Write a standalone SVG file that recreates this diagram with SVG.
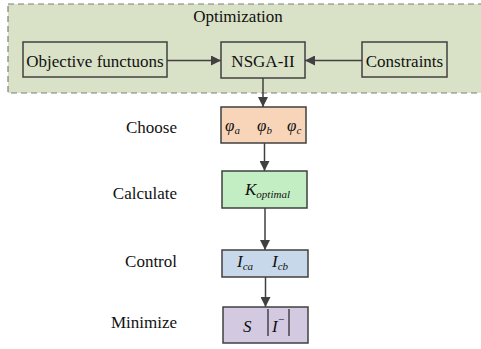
<svg xmlns="http://www.w3.org/2000/svg" width="481" height="349" viewBox="0 0 481 349">
  <defs>
    <marker id="arrow" viewBox="0 0 10 10" refX="10" refY="5" markerWidth="10" markerHeight="10" markerUnits="userSpaceOnUse" orient="auto">
      <path d="M0,0 L10,5 L0,10 z" fill="#404040"/>
    </marker>
  </defs>
  <style>
    text { font-family: "Liberation Serif", "Times New Roman", serif; fill: #111; }
    .lbl { font-size: 17px; }
    .m { font-style: italic; font-size: 17px; }
    .sub { font-style: italic; font-size: 11px; }
    .box { stroke: #404040; stroke-width: 1.5; }
    .conn { stroke: #404040; stroke-width: 1.5; fill: none; marker-end: url(#arrow); }
  </style>
  <rect width="481" height="349" fill="#ffffff"/>

  <!-- optimisation stage -->
  <g id="optimization">
    <rect x="8" y="4" width="480" height="89" fill="#d9e1c6" stroke="#7f7f7f" stroke-width="1.2" stroke-dasharray="6,4"/>
    <text class="lbl" x="238" y="22" text-anchor="middle">Optimization</text>
  </g>
  <g id="objective">
    <rect class="box" x="23" y="42" width="144" height="35" fill="none"/>
    <text class="lbl" x="95" y="67" text-anchor="middle">Objective functuons</text>
  </g>
  <g id="nsga">
    <rect class="box" x="221" y="42" width="84" height="36" fill="none"/>
    <text class="lbl" x="263" y="67" text-anchor="middle">NSGA-II</text>
  </g>
  <g id="constraints">
    <rect class="box" x="362" y="42" width="85" height="35" fill="none"/>
    <text class="lbl" x="404.5" y="67" text-anchor="middle">Constraints</text>
  </g>

  <!-- chain of steps -->
  <g id="choose">
    <rect class="box" x="221" y="107" width="85" height="36" fill="#f8d5b9"/>
    <text x="225" y="131"><tspan class="m">φ</tspan><tspan class="sub" dy="3">a</tspan></text>
    <text x="257" y="131"><tspan class="m">φ</tspan><tspan class="sub" dy="3">b</tspan></text>
    <text x="287" y="131"><tspan class="m">φ</tspan><tspan class="sub" dy="3">c</tspan></text>
  </g>
  <g id="calculate">
    <rect class="box" x="222" y="171" width="85" height="37" fill="#c3eec3"/>
    <text x="245" y="195"><tspan class="m">K</tspan><tspan class="sub" dy="3">optimal</tspan></text>
  </g>
  <g id="control">
    <rect class="box" x="222" y="250" width="86" height="27" fill="#c6d8e9"/>
    <text x="237" y="267"><tspan class="m">I</tspan><tspan class="sub" dy="3">ca</tspan></text>
    <text x="272" y="267"><tspan class="m">I</tspan><tspan class="sub" dy="3">cb</tspan></text>
  </g>
  <g id="minimize">
    <rect class="box" x="223" y="307" width="85" height="36" fill="#d3c9e0"/>
    <text class="m" x="243" y="332">S</text>
    <line x1="268" y1="309" x2="268" y2="336" stroke="#111" stroke-width="1.1"/>
    <text x="272" y="332"><tspan class="m">I</tspan><tspan class="sub" dy="-9">−</tspan></text>
    <line x1="289" y1="309" x2="289" y2="336" stroke="#111" stroke-width="1.1"/>
  </g>

  <!-- side labels -->
  <g id="labels">
    <text class="lbl" x="177" y="133" text-anchor="end">Choose</text>
    <text class="lbl" x="177" y="199" text-anchor="end">Calculate</text>
    <text class="lbl" x="177" y="267" text-anchor="end">Control</text>
    <text class="lbl" x="177" y="328" text-anchor="end">Minimize</text>
  </g>

  <!-- connectors -->
  <g id="connectors">
    <line class="conn" x1="167" y1="60.5" x2="221" y2="60.5"/>
    <line class="conn" x1="362" y1="60.5" x2="305" y2="60.5"/>
    <line class="conn" x1="263" y1="78" x2="263" y2="107"/>
    <line class="conn" x1="264.5" y1="143" x2="264.5" y2="171"/>
    <line class="conn" x1="265" y1="208" x2="265" y2="250"/>
    <line class="conn" x1="265.5" y1="277" x2="265.5" y2="307"/>
  </g>
</svg>
